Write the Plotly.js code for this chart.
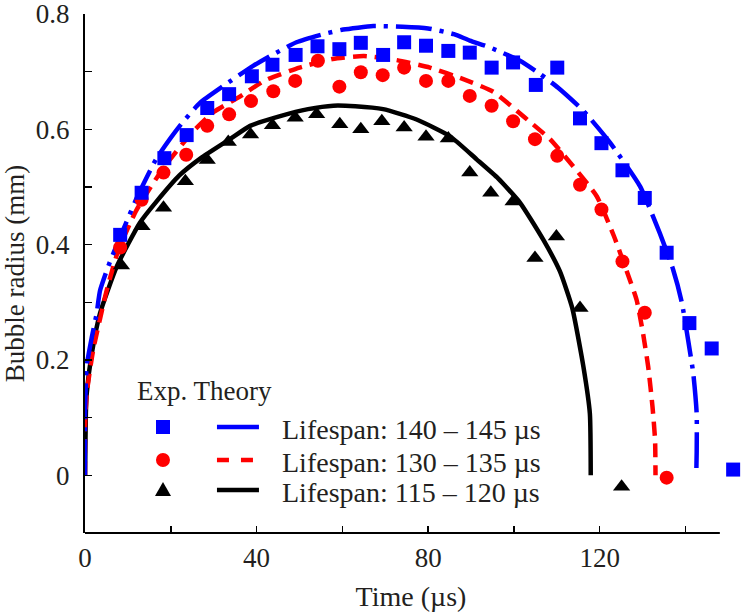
<!DOCTYPE html>
<html>
<head>
<meta charset="utf-8">
<script src="https://cdn.plot.ly/plotly-3.0.1.min.js"></script>
<style>
  body { margin: 0; background: #fff; }
  #chart { width: 750px; height: 616px; }
</style>
</head>
<body>
<div id="chart"></div>
<script>
// experimental points (time in us, radius in mm)
var expTime140 = [8.2, 13.2, 18.5, 23.7, 28.5, 33.6, 38.9, 43.7, 49.1, 54.2, 59.3, 64.3, 69.5, 74.4, 79.5, 84.7, 89.7, 94.8, 99.8, 105.1, 110.1, 115.4, 120.4, 125.3, 130.5, 135.6, 140.9, 146.1, 151.1];
var expR140 = [0.417, 0.49, 0.55, 0.59, 0.637, 0.661, 0.692, 0.712, 0.729, 0.744, 0.739, 0.75, 0.729, 0.751, 0.745, 0.736, 0.733, 0.707, 0.716, 0.677, 0.707, 0.619, 0.576, 0.529, 0.481, 0.386, 0.264, 0.22, 0.01];

var expTime130 = [8.2, 13.2, 18.3, 23.6, 28.5, 33.6, 38.7, 43.9, 49.0, 54.3, 59.3, 64.3, 69.4, 74.4, 79.5, 84.7, 89.7, 94.8, 99.8, 104.9, 110.1, 115.4, 120.4, 125.3, 130.5, 135.6];
var expR130 = [0.395, 0.478, 0.525, 0.556, 0.606, 0.626, 0.649, 0.666, 0.684, 0.719, 0.674, 0.699, 0.694, 0.707, 0.684, 0.684, 0.658, 0.641, 0.614, 0.583, 0.554, 0.504, 0.461, 0.371, 0.282, -0.004];

var expTime115 = [8.5, 13.3, 18.3, 23.4, 28.5, 33.4, 38.6, 43.7, 49.0, 54.0, 59.4, 64.3, 69.2, 74.4, 79.5, 84.7, 89.7, 94.6, 99.8, 104.9, 109.9, 115.4, 125.1];
var expR115 = [0.364, 0.432, 0.464, 0.51, 0.547, 0.578, 0.591, 0.607, 0.62, 0.626, 0.609, 0.6, 0.614, 0.603, 0.587, 0.584, 0.525, 0.49, 0.475, 0.377, 0.414, 0.29, -0.02];

// theory curves
var thTime140 = [0, 0, 0.4, 1.6, 2.7, 3.5, 5.8, 9.7, 12, 16.7, 22.1, 26.8, 32.2, 39.2, 43.9, 49.3, 55.5, 60.2, 67.2, 74, 80, 86, 89.7, 94.4, 101.4, 106.1, 110.3, 116.2, 122.4, 129.4, 134, 137.1, 139.1, 140.6, 141.8, 142.6, 142.6, 142.5];
var thR140 = [0, 0.11, 0.19, 0.24, 0.28, 0.32, 0.37, 0.44, 0.48, 0.55, 0.606, 0.646, 0.675, 0.71, 0.73, 0.751, 0.765, 0.773, 0.779, 0.778, 0.775, 0.765, 0.754, 0.742, 0.719, 0.696, 0.672, 0.632, 0.577, 0.501, 0.42, 0.357, 0.301, 0.235, 0.177, 0.107, 0.04, 0];

var thTime130 = [0, 0, 0.4, 1.9, 5.1, 7.8, 12, 18, 25, 30, 35.7, 42, 50, 57.7, 65, 72.7, 80.4, 88.2, 95.2, 102.6, 108.4, 113.8, 119.3, 123.3, 126.3, 128.6, 130.1, 131.3, 132.3, 132.9, 133];
var thR130 = [0, 0.084, 0.142, 0.217, 0.322, 0.391, 0.46, 0.53, 0.595, 0.63, 0.655, 0.685, 0.707, 0.722, 0.727, 0.72, 0.707, 0.687, 0.665, 0.62, 0.583, 0.536, 0.484, 0.415, 0.354, 0.304, 0.246, 0.188, 0.119, 0.061, 0];

var thTime115 = [0, 0.2, 0.4, 1.6, 3.5, 7.4, 12.8, 16.7, 22, 27, 33.8, 38.5, 45.5, 52, 57.9, 63, 69.5, 77.3, 85.1, 91.3, 96.3, 101.4, 106.8, 110.7, 113.6, 116.2, 117.7, 117.9];
var thR115 = [0, 0.108, 0.142, 0.212, 0.281, 0.362, 0.438, 0.475, 0.52, 0.55, 0.583, 0.606, 0.623, 0.635, 0.641, 0.64, 0.635, 0.617, 0.588, 0.548, 0.515, 0.473, 0.409, 0.354, 0.29, 0.188, 0.107, 0];

var seriesNames = ['Lifespan: 140 \u2013 145 \u00b5s', 'Lifespan: 130 \u2013 135 \u00b5s', 'Lifespan: 115 \u2013 120 \u00b5s'];
var colors = ['#0000ff', '#ff0000', '#000000'];

var serif = '"Liberation Serif", "Times New Roman", serif';
var txt = '#231f20';

var data = [
  { type: 'scatter', mode: 'lines', x: thTime115, y: thR115, name: seriesNames[2],
    line: { color: colors[2], width: 4.5, shape: 'spline', smoothing: 0.5 } },
  { type: 'scatter', mode: 'lines', x: thTime130, y: thR130, name: seriesNames[1],
    line: { color: colors[1], width: 4.5, dash: '14px,8px', shape: 'spline', smoothing: 0.5 } },
  { type: 'scatter', mode: 'lines', x: thTime140, y: thR140, name: seriesNames[0],
    line: { color: colors[0], width: 4.5, dash: '36px,8px,4px,8px', shape: 'spline', smoothing: 0.5 } },
  { type: 'scatter', mode: 'markers', x: expTime115, y: expR115, cliponaxis: false,
    marker: { symbol: 'triangle-up', size: 15, color: colors[2] } },
  { type: 'scatter', mode: 'markers', x: expTime130, y: expR130, cliponaxis: false,
    marker: { symbol: 'circle', size: 14, color: colors[1] } },
  { type: 'scatter', mode: 'markers', x: expTime140, y: expR140, cliponaxis: false,
    marker: { symbol: 'square', size: 14, color: colors[0] } }
];

// plot box: x axis drawn only up to 148, data range runs a bit further
var xEnd = 148, xMax = 152;
var L = 85, T = 14, H = 519;
var W = 635 * xMax / xEnd;
function px(v) { return (v - L) / W; }
function py(v) { return (T + H - v) / H; }
var rows = [427, 460, 490];

var shapes = [
  { type: 'line', xref: 'x', yref: 'paper', x0: 0, x1: xEnd, y0: 0, y1: 0,
    line: { color: '#000', width: 2 } },
  { type: 'rect', xref: 'paper', yref: 'paper', xsizemode: 'pixel', ysizemode: 'pixel',
    xanchor: px(163), yanchor: py(rows[0]), x0: -7, x1: 7, y0: -7, y1: 7,
    fillcolor: colors[0], line: { width: 0 } },
  { type: 'circle', xref: 'paper', yref: 'paper', xsizemode: 'pixel', ysizemode: 'pixel',
    xanchor: px(163), yanchor: py(rows[1]), x0: -7, x1: 7, y0: -7, y1: 7,
    fillcolor: colors[1], line: { width: 0 } },
  { type: 'path', xref: 'paper', yref: 'paper', xsizemode: 'pixel', ysizemode: 'pixel',
    xanchor: px(163), yanchor: py(rows[2]), path: 'M-8,-6 L8,-6 L0,8 Z',
    fillcolor: colors[2], line: { width: 0 } },
  { type: 'line', xref: 'paper', yref: 'paper', x0: px(217), x1: px(259), y0: py(rows[0]), y1: py(rows[0]),
    line: { color: colors[0], width: 4.5 } },
  { type: 'line', xref: 'paper', yref: 'paper', x0: px(217), x1: px(259), y0: py(rows[1]), y1: py(rows[1]),
    line: { color: colors[1], width: 4.5, dash: '12px,12px' } },
  { type: 'line', xref: 'paper', yref: 'paper', x0: px(217), x1: px(259), y0: py(rows[2]), y1: py(rows[2]),
    line: { color: colors[2], width: 4.5 } }
];

var annotations = [
  { xref: 'paper', yref: 'paper', x: px(135), y: py(391), xanchor: 'left', yanchor: 'middle',
    text: 'Exp. Theory', showarrow: false, font: { family: serif, size: 27, color: txt } }
];
seriesNames.forEach(function (n, i) {
  annotations.push({ xref: 'paper', yref: 'paper', x: px(280), y: py(rows[i] + 2), xanchor: 'left', yanchor: 'middle',
    text: n, showarrow: false, font: { family: serif, size: 28, color: txt } });
});

var layout = {
  width: 750, height: 616,
  margin: { l: L, r: 750 - L - W, t: T, b: 616 - T - H },
  paper_bgcolor: '#fff', plot_bgcolor: '#fff',
  showlegend: false,
  font: { family: serif, size: 27, color: txt },
  xaxis: {
    range: [0, xMax], tickvals: [0, 40, 80, 120], ticks: 'inside', ticklen: 7, tickwidth: 1.5, tickcolor: '#000',
    minor: { tickvals: [20, 60, 100, 140], ticks: 'inside', ticklen: 7, tickwidth: 1.5, tickcolor: '#000' },
    showline: false, showgrid: false, zeroline: false,
    ticklabelstandoff: 6, ticklabeloverflow: 'allow',
    title: { text: 'Time (\u00b5s)', standoff: 14, font: { family: serif, size: 28, color: txt } }
  },
  yaxis: {
    range: [-0.1, 0.8], tickvals: [0, 0.2, 0.4, 0.6, 0.8], ticks: 'inside', ticklen: 7, tickwidth: 1.5, tickcolor: '#000',
    minor: { tickvals: [0.1, 0.3, 0.5, 0.7], ticks: 'inside', ticklen: 7, tickwidth: 1.5, tickcolor: '#000' },
    showline: true, linecolor: '#000', linewidth: 2, showgrid: false, zeroline: false,
    ticklabelstandoff: 8, ticklabeloverflow: 'allow',
    title: { text: 'Bubble radius (mm)', standoff: 6, font: { family: serif, size: 27, color: txt } }
  },
  shapes: shapes,
  annotations: annotations
};

Plotly.newPlot('chart', data, layout, { displayModeBar: false, staticPlot: true });
</script>
</body>
</html>
